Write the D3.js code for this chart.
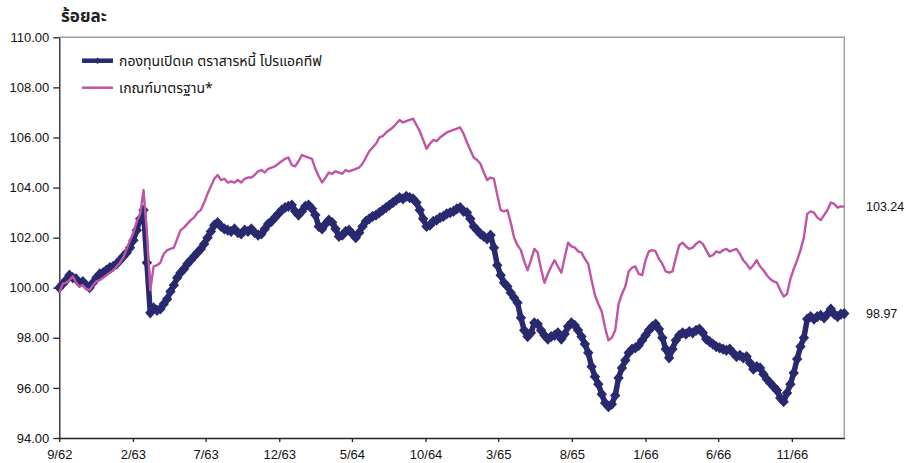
<!DOCTYPE html>
<html lang="th">
<head>
<meta charset="utf-8" />
<title>กองทุนเปิดเค ตราสารหนี้ โปรแอคทีฟ</title>
<script src="https://d3js.org/d3.v7.min.js"></script>
<style>
    body {
        margin: 0;
        background: #fff;
        font-family: "Liberation Sans", Arial, sans-serif;
    }
    .thai {
        font-family: "Noto Sans Thai", "Tahoma", "Leelawadee UI", "Liberation Sans", sans-serif;
    }
</style>
</head>
<body>
<script>
// series names / legend text
const seriesNames = ["กองทุนเปิดเค ตราสารหนี้ โปรแอคทีฟ", "เกณฑ์มาตรฐาน*"];

// weekly readings starting 1 Sep 2019 (9/62)
const startDate = new Date(2019, 8, 1);

const fundValues = [
    100.00, 100.15, 100.30, 100.50, 100.40, 100.35, 100.20, 100.25, 100.10, 100.00,
    100.20, 100.40, 100.55, 100.60, 100.70, 100.80, 100.85, 100.95, 101.10, 101.25,
    101.40, 101.60, 101.90, 102.30, 102.75, 103.10, 101.00, 99.00, 99.20, 99.10,
    99.15, 99.35, 99.55, 99.85, 100.10, 100.40, 100.60, 100.75, 100.95, 101.10,
    101.25, 101.40, 101.55, 101.75, 102.00, 102.25, 102.50, 102.60, 102.45, 102.35,
    102.30, 102.25, 102.35, 102.20, 102.15, 102.30, 102.25, 102.35, 102.20, 102.10,
    102.15, 102.35, 102.55, 102.65, 102.80, 102.95, 103.10, 103.20, 103.25, 103.30,
    103.05, 102.90, 103.05, 103.25, 103.30, 103.15, 102.90, 102.45, 102.35, 102.55,
    102.70, 102.60, 102.35, 102.05, 102.10, 102.25, 102.30, 102.15, 102.00, 102.20,
    102.45, 102.65, 102.75, 102.85, 102.90, 103.00, 103.10, 103.20, 103.30, 103.40,
    103.50, 103.60, 103.55, 103.65, 103.60, 103.55, 103.40, 103.10, 102.75, 102.45,
    102.50, 102.65, 102.70, 102.80, 102.85, 102.95, 103.00, 103.05, 103.15, 103.20,
    103.05, 103.00, 102.75, 102.45, 102.30, 102.15, 102.05, 101.95, 102.10, 101.60,
    100.90, 100.50, 100.20, 100.05, 99.80, 99.60, 99.40, 98.80, 98.30, 98.05,
    98.20, 98.60, 98.55, 98.30, 98.10, 97.95, 98.05, 98.10, 98.20, 97.95,
    98.15, 98.45, 98.60, 98.50, 98.30, 98.05, 97.75, 97.40, 96.85, 96.45,
    96.15, 95.75, 95.40, 95.25, 95.35, 95.70, 96.40, 96.80, 97.10, 97.40,
    97.55, 97.60, 97.70, 97.90, 98.10, 98.30, 98.45, 98.55, 98.35, 98.00,
    97.55, 97.20, 97.55, 97.90, 98.10, 98.20, 98.15, 98.25, 98.20, 98.30,
    98.35, 98.20, 97.95, 97.85, 97.75, 97.65, 97.60, 97.55, 97.50, 97.55,
    97.40, 97.25, 97.30, 97.20, 97.25, 97.00, 96.75, 96.85, 96.80, 96.55,
    96.35, 96.20, 96.05, 95.90, 95.60, 95.45, 95.80, 96.15, 96.60, 97.15,
    97.65, 98.00, 98.75, 98.85, 98.75, 98.85, 98.90, 98.80, 98.95, 99.15,
    98.95, 98.85, 98.95, 98.97
];

const benchValues = [
    99.80, 100.15, 100.20, 100.30, 100.45, 100.20, 100.05, 100.10, 99.95, 99.90,
    100.10, 100.25, 100.30, 100.40, 100.50, 100.60, 100.70, 100.85, 101.00, 101.20,
    101.55, 101.90, 102.20, 102.65, 102.95, 103.90, 102.20, 99.90, 100.85, 100.90,
    101.00, 101.35, 101.50, 101.55, 101.60, 101.95, 102.30, 102.40, 102.55, 102.70,
    102.80, 103.00, 103.10, 103.40, 103.75, 104.05, 104.35, 104.50, 104.30, 104.35,
    104.20, 104.25, 104.20, 104.30, 104.20, 104.35, 104.40, 104.40, 104.50, 104.65,
    104.70, 104.60, 104.75, 104.80, 104.85, 104.95, 105.05, 105.15, 105.20, 104.90,
    104.85, 105.05, 105.30, 105.25, 105.20, 105.15, 104.75, 104.45, 104.20, 104.40,
    104.60, 104.55, 104.65, 104.60, 104.55, 104.70, 104.65, 104.70, 104.75, 104.80,
    104.95, 105.20, 105.45, 105.60, 105.75, 106.00, 106.05, 106.20, 106.30, 106.40,
    106.55, 106.70, 106.60, 106.65, 106.70, 106.75, 106.50, 106.25, 105.90, 105.55,
    105.75, 105.90, 105.85, 106.00, 106.10, 106.20, 106.25, 106.30, 106.35, 106.40,
    106.15, 105.80, 105.50, 105.20, 105.10, 104.95, 104.60, 104.30, 104.40, 104.35,
    103.70, 103.10, 103.05, 103.10, 102.60, 102.00, 101.70, 101.50, 101.05, 100.70,
    101.10, 101.55, 101.40, 100.75, 100.20, 100.55, 100.85, 101.10, 100.85, 100.60,
    101.20, 101.80, 101.65, 101.60, 101.45, 101.40, 101.15, 100.95, 100.30, 99.70,
    99.35, 99.05, 98.40, 97.90, 98.00, 98.30, 99.35, 99.75, 100.05, 100.65,
    100.80, 100.85, 100.55, 100.50, 101.10, 101.45, 101.50, 101.45, 101.15, 100.95,
    100.65, 100.60, 100.65, 101.20, 101.70, 101.80, 101.65, 101.55, 101.60, 101.75,
    101.85, 101.75, 101.50, 101.25, 101.30, 101.45, 101.40, 101.50, 101.55, 101.45,
    101.50, 101.55, 101.35, 101.10, 100.95, 100.75, 100.90, 101.10, 100.85, 100.70,
    100.50, 100.35, 100.25, 100.20, 99.90, 99.65, 99.75, 100.35, 100.75, 101.10,
    101.50, 102.00, 102.95, 103.05, 103.00, 102.80, 102.70, 102.90, 103.10, 103.40,
    103.35, 103.20, 103.25, 103.24
];

// x tick labels (month / Thai year)
const tickLabels = ["9/62", "2/63", "7/63", "12/63", "5/64", "10/64", "3/65", "8/65", "1/66", "6/66", "11/66"];
const yTicks = [94, 96, 98, 100, 102, 104, 106, 108, 110];

const dates = fundValues.map((v, i) => d3.timeDay.offset(startDate, 7 * i));
const tickDates = tickLabels.map(s => {
    const p = s.split("/");
    return new Date(2500 + (+p[1]) - 543, (+p[0]) - 1, 1);
});

const navy = "#29296f";
const pink = "#bf55a3";

const svg = d3.select("body").append("svg")
    .attr("width", 906)
    .attr("height", 463);

const x = d3.scaleTime()
    .domain([dates[0], dates[dates.length - 1]])
    .range([59.3, 844.3]);

const y = d3.scaleLinear()
    .domain([94, 110])
    .range([438, 37.3]);

// gray top / right border of plot area
svg.append("path")
    .attr("d", `M59.3,37.3H${x.range()[1]}V438`)
    .attr("fill", "none")
    .attr("stroke", "#a0a0a0")
    .attr("stroke-width", 1.5);

// axes
const yAxis = svg.append("g")
    .attr("transform", "translate(59.3,0)")
    .call(d3.axisLeft(y).tickValues(yTicks).tickFormat(d3.format(".2f")).tickSize(6).tickSizeOuter(0).tickPadding(4));

const xAxis = svg.append("g")
    .attr("transform", "translate(0,438)")
    .call(d3.axisBottom(x).tickValues(tickDates).tickFormat((d, i) => tickLabels[i]).tickSize(4).tickSizeOuter(0).tickPadding(8));

[yAxis, xAxis].forEach(g => {
    g.selectAll("text").attr("font-size", 13).attr("font-family", "Liberation Sans, Arial, sans-serif").attr("fill", "#111");
    g.selectAll("line, path").attr("stroke", "#222").attr("stroke-width", 1.3);
});

const fundData = dates.map((d, i) => ({ date: d, value: fundValues[i] }));
const benchData = dates.map((d, i) => ({ date: d, value: benchValues[i] }));

const line = d3.line()
    .x(d => x(d.date))
    .y(d => y(d.value));

// fund line with diamond markers
svg.append("path")
    .datum(fundData)
    .attr("fill", "none")
    .attr("stroke", navy)
    .attr("stroke-width", 5.5)
    .attr("stroke-linejoin", "round")
    .attr("d", line);

const diamond = "M0,-5.6L5.2,0L0,5.6L-5.2,0Z";
svg.append("g").selectAll("path")
    .data(fundData)
    .enter()
    .append("path")
    .attr("d", diamond)
    .attr("transform", d => `translate(${x(d.date)},${y(d.value)})`)
    .attr("fill", navy);

// benchmark line
svg.append("path")
    .datum(benchData)
    .attr("fill", "none")
    .attr("stroke", pink)
    .attr("stroke-width", 2.4)
    .attr("stroke-linejoin", "round")
    .attr("d", line);

// end-of-line value labels
const endLabels = [benchData[benchData.length - 1], fundData[fundData.length - 1]];
svg.selectAll("text.endlabel")
    .data(endLabels)
    .enter()
    .append("text")
    .attr("class", "endlabel")
    .attr("x", 866)
    .attr("y", d => y(d.value))
    .attr("dy", "0.35em")
    .attr("font-size", 12.5)
    .attr("fill", "#111")
    .text(d => d3.format(".2f")(d.value));

// title
svg.append("text")
    .attr("class", "thai")
    .attr("x", 61)
    .attr("y", 22)
    .attr("font-size", 17)
    .attr("font-weight", "bold")
    .attr("fill", "#222")
    .text("ร้อยละ");

// legend
const legend = svg.append("g");
legend.append("line")
    .attr("x1", 82).attr("x2", 113).attr("y1", 60.7).attr("y2", 60.7)
    .attr("stroke", navy).attr("stroke-width", 4.5);
legend.append("path")
    .attr("d", "M0,-3.2L3.2,0L0,3.2L-3.2,0Z")
    .attr("transform", "translate(97.5,60.7)")
    .attr("fill", navy);
legend.append("line")
    .attr("x1", 82).attr("x2", 113).attr("y1", 87.7).attr("y2", 87.7)
    .attr("stroke", pink).attr("stroke-width", 2.5);

legend.selectAll("text")
    .data(seriesNames)
    .enter()
    .append("text")
    .attr("class", "thai")
    .attr("x", 119)
    .attr("y", (d, i) => 60.7 + i * 27)
    .attr("dy", "0.35em")
    .attr("font-size", 14)
    .attr("fill", "#111")
    .text(d => d);
</script>
</body>
</html>
